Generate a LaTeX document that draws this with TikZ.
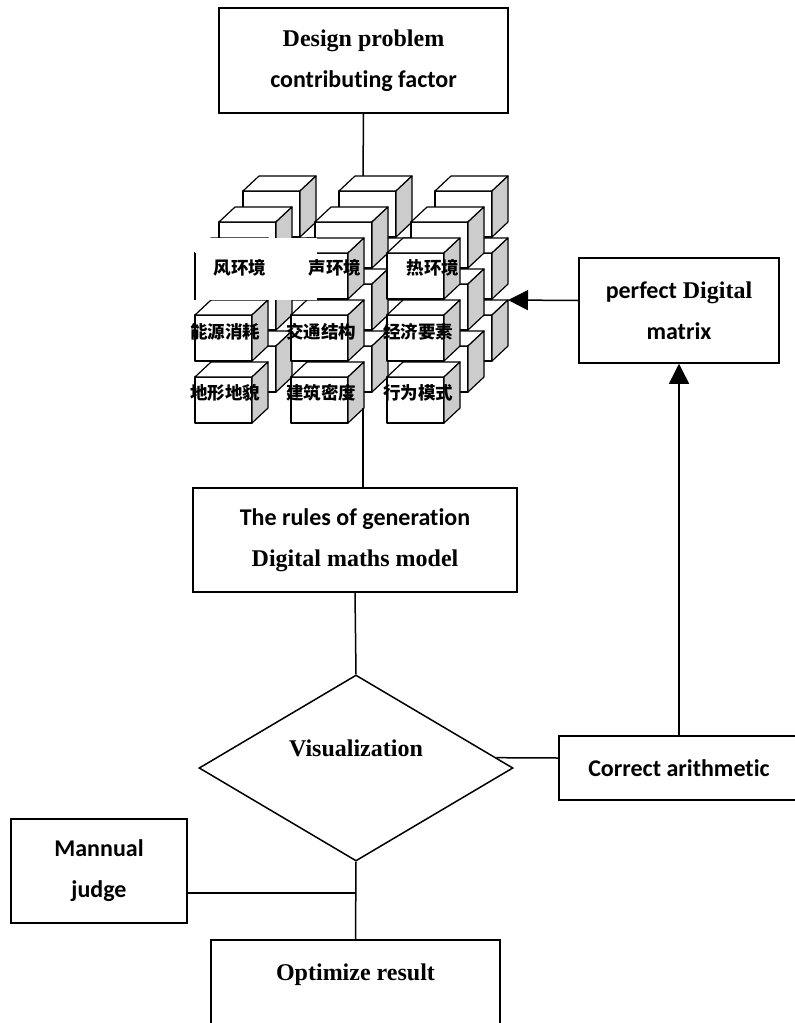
\documentclass[tikz,border=0pt]{standalone}
\usepackage{fontspec}
\setmainfont{Liberation Serif}
\newfontfamily\calib[Ligatures=CommonOff]{Carlito}
\newfontfamily\cjk{Noto Sans CJK SC}
\usetikzlibrary{calc, shapes.geometric}
\usetikzlibrary{arrows.meta}
\tikzset{>={Triangle[width=20pt,length=20pt]}}
\tikzset{box/.style={draw=black, line width=1.5pt, align=center, inner sep=0pt, font=\fontsize{24}{41}\selectfont\bfseries}}
\tikzset{cn/.style={inner sep=0pt, font=\cjk\bfseries\fontsize{17.5}{20}\selectfont}}

% one cube, front face top-left corner at (#1,#2)
\newcommand{\cubeat}[2]{
  \draw[fill=white] (#1,#2) rectangle ++(57,46);
  \draw[fill=white] (#1,#2) -- ++(16,-15) -- ++(57,0) -- ++(-16,15) -- cycle;
  \draw[fill=gray!40] (#1+57,#2) -- ++(16,-15) -- ++(0,46) -- ++(-16,15) -- cycle;
}

\begin{document}
\begin{tikzpicture}[x=1pt, y=-1pt, line width=1.5pt]
    \useasboundingbox (0,0) rectangle (795,1023);

    \node[box, minimum width=289pt, minimum height=105pt] (top) at (363.5,60.5) {Design problem\\{\calib contributing factor}};

    % the block of cubes, back layer first
    \begin{scope}[line width=1.2pt, line join=round]
    \foreach \l in {2,1,0}
      \foreach \c in {0,1,2}
        \foreach \r in {0,1,2} {
          \pgfmathsetmacro\cx{195+96*\c+24*\l}
          \pgfmathsetmacro\cy{253+62*\r-31*\l}
          \cubeat{\cx}{\cy}
        }
    \fill[white] (195,238) rectangle (317,300);
    \draw (195,253) -- (195,300);
    \end{scope}
    \coordinate (ctop) at (363,176);
    \coordinate (cbot) at (363,408);
    \coordinate (mtx) at (508,300);

    \node[cn] (wind) at (240,268) {风环境};
    \node[cn] (sound) at (335,268) {声环境};
    \node[cn] (heat) at (433,268) {热环境};
    \node[cn] (energy) at (225,332) {能源消耗};
    \node[cn] (traffic) at (321,332) {交通结构};
    \node[cn] (econ) at (418,332) {经济要素};
    \node[cn] (terrain) at (225,393) {地形地貌};
    \node[cn] (density) at (321,393) {建筑密度};
    \node[cn] (behav) at (418,393) {行为模式};

    \node[box, minimum width=200pt, minimum height=105pt] (perf) at (679,310.5) {{\calib perfect} Digital\\{\calib matrix}};
    \node[box, minimum width=324pt, minimum height=104pt] (rules) at (355,540) {{\calib The rules of generation}\\Digital maths model};
    \node[box, diamond, aspect=1.69, minimum width=314pt, minimum height=186pt] (vis) at (356,768) {\raisebox{12pt}[0pt][0pt]{Visualization}};
    \node[box, minimum width=240pt, minimum height=64pt] (corr) at (679,768) {\calib Correct arithmetic};
    \node[box, minimum width=176pt, minimum height=104pt] (man) at (99,871) {\calib Mannual\\\calib judge};
    \node[box, minimum width=289pt, minimum height=105pt] (opt) at (355.5,992.5) {Optimize result\\\mbox{}};

    \draw (top.south) -- (ctop);
    \draw (cbot) -- (cbot |- rules.north);
    \draw[->] ([yshift=10pt]perf.west) -- (mtx);
    \draw (rules.south) -- (vis.north);
    \draw ([yshift=10pt]corr.west) -- ($(vis.east)!0.11!(vis.north)$);
    \draw[->] (perf.south |- corr.north) -- (perf.south);
    \draw (vis.south) -- (opt.north);
    \draw ([yshift=-22pt]man.east) -- ([yshift=-22pt]man.east -| vis.south);
\end{tikzpicture}
\end{document}
